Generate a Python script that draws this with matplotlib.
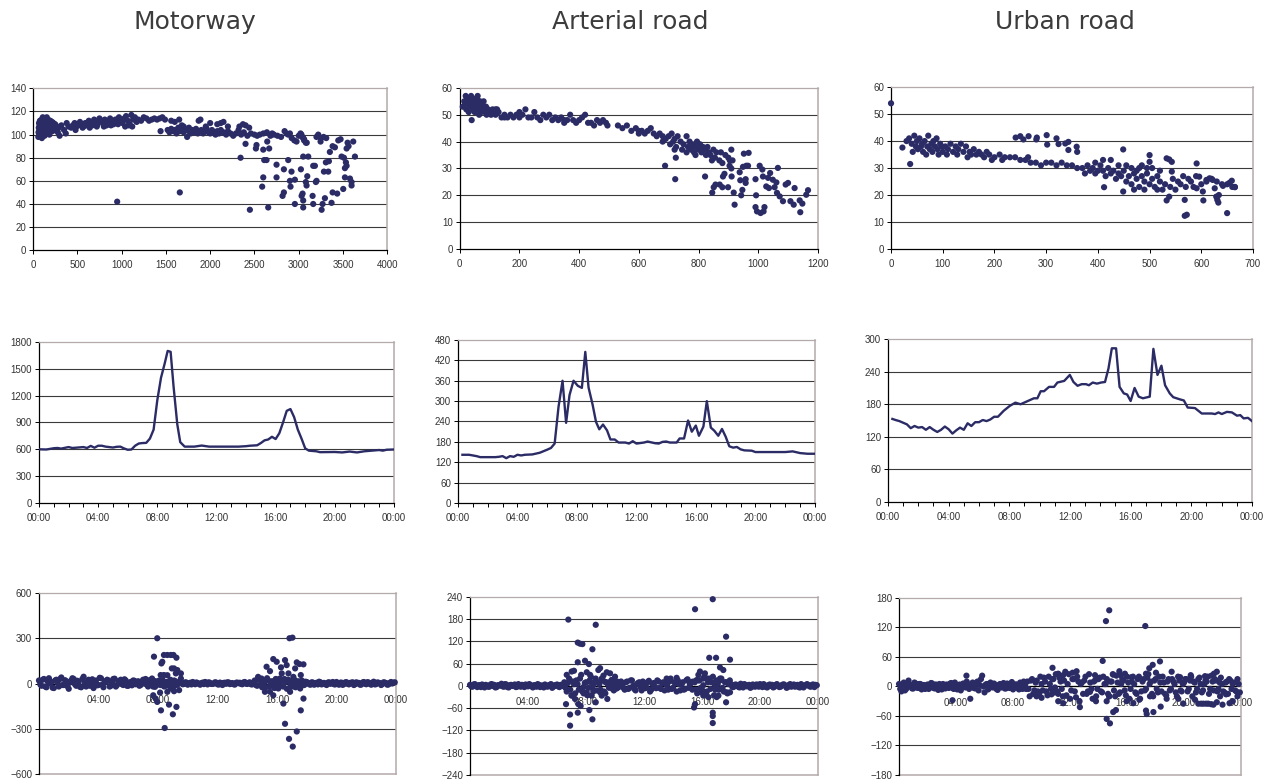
import numpy as np
import matplotlib.pyplot as plt

# --- colours / styles ---
NAVY = '#2b2b66'
GRID = '#3a3a3a'
FRAME = '#b4aaaa'
TXT = '#333333'

plt.rcParams['font.family'] = ['Liberation Sans', 'DejaVu Sans']

# ---------------- Row 1: scatter (x, y) ----------------
motorway_xy = [
    (60, 98), (62, 102), (65, 106), (68, 110), (70, 100), (72, 104), (75, 108), (78, 112),
    (80, 99), (82, 103), (85, 107), (88, 111), (90, 101), (92, 105), (95, 109), (98, 113),
    (100, 97), (105, 104), (108, 110), (110, 115), (112, 100), (115, 106), (118, 112),
    (120, 102), (125, 108), (128, 114), (130, 99), (135, 105), (140, 111), (145, 103),
    (150, 109), (155, 115), (160, 101), (165, 107), (170, 113), (175, 104), (180, 110),
    (185, 100), (190, 106), (195, 112), (200, 105), (210, 108), (215, 111), (220, 103),
    (225, 107), (230, 110), (240, 105), (250, 109), (260, 104), (270, 107), (280, 102),
    (290, 106), (300, 99), (320, 108), (350, 104), (370, 101), (380, 110), (400, 107),
    (430, 106), (450, 108), (470, 110), (490, 107), (510, 108), (530, 111), (550, 109),
    (570, 107), (590, 110), (610, 108), (630, 112), (650, 110), (670, 108), (690, 113),
    (710, 111), (730, 109), (750, 114), (770, 112), (790, 110), (810, 113), (830, 108),
    (850, 111), (870, 114), (890, 112), (910, 109), (930, 113), (950, 111), (970, 115),
    (990, 113), (1010, 110), (1030, 114), (1050, 116), (1070, 112), (1090, 109),
    (1110, 117), (1130, 113), (1150, 115), (1170, 111), (1190, 113), (1220, 112),
    (1250, 115), (1280, 114), (1310, 112), (1340, 113), (1370, 114), (1400, 113),
    (1430, 114), (1460, 115), (1490, 113),
    (480, 104), (560, 106), (640, 106), (720, 107), (800, 107), (880, 108), (960, 109),
    (1040, 107), (1080, 108), (1120, 107),
    (1440, 103), (1520, 104), (1540, 102), (1560, 105), (1580, 103), (1600, 104),
    (1620, 101), (1640, 106), (1660, 103), (1680, 105), (1700, 102), (1720, 104),
    (1740, 98), (1760, 103), (1780, 101), (1800, 104), (1820, 102), (1840, 105),
    (1860, 101), (1880, 103), (1900, 104), (1920, 101), (1940, 103), (1960, 105),
    (1980, 102), (2000, 101), (2020, 104), (2040, 102), (2060, 100), (2080, 103),
    (2100, 101), (2120, 104), (2150, 102), (2180, 100), (2200, 103), (2230, 101),
    (2260, 99), (2290, 101),
    (1560, 112), (1600, 111), (1650, 113), (1680, 108), (1870, 112), (1890, 113),
    (2000, 110), (2080, 109), (2120, 110), (2150, 111), (2200, 107), (2330, 107),
    (2370, 109), (2400, 108), (2440, 106), (1700, 107), (1760, 106), (1950, 107),
    (2320, 104), (2350, 100), (2380, 102), (2420, 99), (2460, 101), (2500, 100),
    (2530, 99), (2560, 100), (2600, 101), (2640, 102), (2680, 99), (2700, 101),
    (2720, 100), (2760, 99), (2800, 98), (2840, 103), (2860, 101), (2880, 100),
    (2920, 97), (2950, 95), (3000, 99), (3020, 101), (3040, 98), (3060, 96), (3080, 93),
    (3200, 98), (3220, 100), (3250, 97), (3280, 98), (3310, 97),
    (950, 42), (1657, 50), (2343, 80), (2399, 92), (2448, 35), (2523, 91), (2516, 88),
    (2599, 87), (2599, 63), (2587, 55), (2610, 78), (2636, 78), (2644, 94), (2666, 88),
    (2655, 37), (2749, 74), (2749, 63), (2817, 47), (2832, 50), (2832, 70), (2881, 78),
    (2900, 60), (2918, 68), (2907, 55), (2956, 40), (2956, 61), (2975, 94), (3032, 47),
    (3024, 70), (3050, 81), (3043, 49), (3050, 43), (3050, 37), (3080, 59), (3088, 56),
    (3096, 64), (3107, 81), (3156, 47), (3163, 73), (3182, 73), (3193, 59), (3201, 60),
    (3163, 40), (3220, 99), (3246, 94), (3269, 40), (3258, 35), (3295, 45), (3284, 68),
    (3306, 76), (3333, 68), (3340, 77), (3351, 85), (3370, 41), (3382, 50), (3382, 90),
    (3408, 89), (3434, 49), (3446, 95), (3472, 96), (3483, 81), (3502, 53), (3521, 63),
    (3532, 76), (3540, 73), (3551, 93), (3562, 90), (3578, 62), (3596, 59), (3596, 56),
    (3615, 94), (3634, 81), (3521, 71), (3510, 80), (3540, 88), (2900, 101),
    (3030, 100), (3050, 97), (3060, 95), (3090, 93),
]

arterial_xy = [
    (10, 53), (15, 55), (18, 54), (20, 57), (22, 52), (25, 56), (28, 54), (30, 51),
    (32, 55), (35, 53), (38, 57), (40, 48), (42, 52), (45, 56), (48, 54), (50, 51),
    (52, 55), (55, 53), (58, 56), (60, 52), (62, 54), (65, 50), (68, 55), (70, 53),
    (72, 51), (75, 54), (78, 52), (80, 55), (85, 51), (88, 53), (90, 50), (95, 52),
    (100, 51), (105, 50), (110, 52), (115, 51), (120, 50), (125, 52), (130, 51),
    (140, 49), (150, 50), (160, 49), (170, 50), (180, 49), (190, 50), (200, 49),
    (210, 50), (220, 52), (230, 49), (240, 49), (250, 51), (260, 49), (270, 48),
    (280, 50), (290, 49), (300, 50), (310, 48), (320, 49), (330, 48), (340, 49),
    (350, 47), (360, 48), (370, 50), (380, 48), (390, 47), (400, 48), (410, 49),
    (420, 50), (430, 47), (440, 47), (450, 46), (460, 48), (470, 47), (480, 48),
    (490, 47), (495, 46), (530, 46), (545, 45), (560, 46), (575, 44), (590, 45),
    (600, 44), (610, 44), (620, 43), (630, 44), (640, 45), (650, 43), (660, 42),
    (670, 43), (680, 42), (690, 41), (700, 42), (705, 39), (710, 43), (715, 40),
    (720, 41), (725, 38), (730, 42), (740, 40), (745, 37), (750, 39), (760, 42),
    (765, 38), (770, 40), (775, 37), (780, 39), (785, 36), (790, 38), (795, 40),
    (800, 37), (805, 39), (810, 36), (815, 38), (820, 37), (825, 35), (830, 38),
    (835, 36), (840, 35), (845, 33), (850, 37), (855, 34), (860, 36), (870, 33),
    (875, 36), (880, 32), (890, 35), (900, 34), (905, 33), (910, 30), (200, 51),
    (120, 52), (60, 57), (80, 53), (150, 49), (350, 48), (600, 43), (680, 40),
    (720, 37), (760, 36), (790, 35),
    (722, 26), (688, 31), (724, 34), (822, 27), (846, 21), (851, 23), (857, 24),
    (871, 24), (880, 23), (882, 27), (887, 28), (899, 23), (904, 31), (911, 27),
    (914, 33), (910, 37), (918, 21), (921, 16.5), (938, 28.6), (940, 25.6), (947, 22),
    (943, 20), (949, 30.6), (952, 35.5), (958, 26), (960, 31), (958, 24.6), (966, 31),
    (991, 26), (993, 20), (991, 15.6), (996, 14), (1005, 31), (1008, 13.4), (1014, 29.6),
    (1016, 27), (1018, 14), (1021, 15.6), (1027, 23.3), (1033, 26.5), (1036, 22.7),
    (1040, 28.3), (1049, 25.8), (1055, 23), (1061, 24.8), (1063, 20.9), (1066, 30.2),
    (1072, 19.6), (1083, 17.8), (1092, 24), (1100, 24.6), (1108, 17.8), (1119, 16.5),
    (1122, 22.7), (1139, 18.1), (1141, 13.7), (1148, 16.9), (1161, 20.2), (1167, 21.9),
    (968, 35.8),
]

urban_xy = [
    (0, 54), (22, 37.6), (37, 31.5),
    (30, 40), (35, 41), (40, 39), (42, 36), (45, 42), (48, 38), (50, 40), (52, 37),
    (55, 41), (58, 38), (60, 39), (62, 36), (65, 40), (68, 35), (70, 38), (72, 42),
    (75, 37), (78, 39), (80, 36), (82, 40), (85, 38), (88, 41), (90, 37), (92, 35),
    (95, 39), (98, 38), (100, 36), (105, 38), (108, 35), (110, 37), (115, 39),
    (120, 36), (125, 38), (128, 35), (130, 37), (135, 39), (140, 36), (145, 38),
    (148, 34), (152, 36), (155, 35), (160, 37), (165, 35), (170, 36), (175, 35),
    (180, 34), (185, 36), (190, 35), (195, 33), (200, 34), (210, 35), (215, 33),
    (220, 34), (230, 34), (240, 34), (250, 33), (260, 33), (265, 34), (270, 32),
    (280, 32), (290, 31), (300, 32), (310, 32), (320, 31), (330, 32), (340, 31),
    (350, 31), (360, 30), (370, 30), (375, 28), (380, 31), (385, 29), (390, 30),
    (395, 28), (400, 29), (405, 31), (410, 29), (415, 27), (420, 30), (425, 28),
    (430, 29), (435, 26), (440, 28), (445, 27), (450, 29), (455, 25), (460, 27),
    (465, 24), (470, 28), (475, 26), (480, 23), (485, 27), (490, 25), (495, 28),
    (500, 24), (505, 26), (510, 23), (515, 27), (520, 25), (525, 22), (530, 24),
    (540, 23), (545, 26), (550, 22), (555, 25), (560, 24), (565, 27), (570, 23),
    (575, 26), (580, 25), (585, 23), (590, 27), (600, 24), (610, 25), (620, 26),
    (630, 25), (640, 24), (650, 24), (660, 23), (665, 23), (455, 31), (465, 30),
    (475, 29), (485, 31), (495, 30), (470, 22), (490, 22), (505, 30), (515, 22),
    (440, 31), (425, 33), (410, 33), (395, 32), (480, 30), (520, 29),
    (241, 41.3), (250, 41.8), (256, 40.6), (266, 41.8), (282, 41.3), (281, 40.6),
    (301, 42.2), (302, 38.7), (320, 41), (324, 38.9), (337, 39.1), (343, 39.7),
    (343, 36.7), (359, 37.9), (360, 36),
    (412, 22.9), (449, 36.9), (449, 21.3), (500, 34.8), (500, 32.3), (533, 33.6),
    (538, 33.2), (543, 32.3), (533, 18), (538, 19.4), (543, 28.7), (568, 18.2),
    (568, 12.3), (572, 12.7), (591, 31.7), (596, 26.8), (591, 22.5), (603, 21.3),
    (604, 18), (610, 25.6), (616, 26.2), (622, 25.6), (626, 22.5), (629, 19.4),
    (631, 18.2), (633, 17.2), (634, 20), (650, 13.3), (642, 23.4), (655, 24.6),
    (659, 25.3), (665, 22.9),
]

# ---------------- Row 2: daily profiles (hour, value) ----------------
motorway_day = [
    (0.0, 600), (0.5, 598), (1.0, 612), (1.25, 615), (1.5, 608), (2.0, 625), (2.25, 615),
    (2.5, 618), (3.0, 625), (3.25, 615), (3.5, 638), (3.75, 618), (4.0, 640), (4.25, 640),
    (4.5, 630), (5.0, 620), (5.25, 628), (5.5, 630), (5.75, 610), (6.0, 595), (6.25, 598),
    (6.5, 640), (6.75, 665), (7.0, 670), (7.25, 672), (7.5, 720), (7.75, 820), (8.0, 1150),
    (8.25, 1400), (8.5, 1560), (8.7, 1700), (8.9, 1690), (9.1, 1300), (9.35, 880),
    (9.55, 680), (9.85, 630), (10.5, 630), (11.0, 642), (11.5, 630), (12.5, 630),
    (13.5, 630), (14.0, 635), (14.25, 640), (14.75, 645), (15.0, 670), (15.25, 700),
    (15.5, 710), (15.75, 740), (16.0, 715), (16.25, 780), (16.5, 900), (16.75, 1030),
    (17.0, 1050), (17.25, 960), (17.5, 820), (17.75, 720), (18.0, 610), (18.25, 585),
    (18.75, 578), (19.0, 568), (20.0, 570), (20.5, 565), (21.0, 575), (21.5, 565),
    (22.0, 578), (22.5, 585), (23.0, 592), (23.25, 585), (23.5, 595), (24.0, 598),
]

arterial_day = [
    (0.3, 142), (0.75, 142), (1.0, 140), (1.25, 138), (1.5, 135), (2.0, 135), (2.5, 135),
    (2.75, 136), (3.0, 138), (3.25, 132), (3.5, 138), (3.75, 136), (4.0, 142), (4.25, 140),
    (4.5, 142), (5.0, 143), (5.5, 148), (6.0, 157), (6.25, 162), (6.5, 175), (6.76, 283),
    (7.03, 360), (7.27, 236), (7.5, 318), (7.77, 360), (8.06, 345), (8.33, 339),
    (8.56, 445), (8.78, 340), (9.05, 290), (9.28, 239), (9.5, 217), (9.75, 231),
    (10.02, 214), (10.25, 187), (10.54, 187), (10.8, 178), (11.25, 178), (11.5, 175),
    (11.75, 182), (12.0, 175), (12.5, 178), (12.75, 181), (13.25, 176), (13.5, 175),
    (13.75, 180), (14.0, 181), (14.25, 178), (14.7, 178), (14.9, 190), (15.2, 190),
    (15.47, 243), (15.72, 210), (15.99, 228), (16.2, 198), (16.5, 225), (16.73, 300),
    (17.0, 222), (17.23, 213), (17.5, 198), (17.75, 218), (18.0, 195), (18.24, 167),
    (18.5, 163), (18.75, 165), (19.0, 158), (19.25, 155), (19.75, 154), (20.0, 150),
    (21.0, 150), (22.0, 150), (22.5, 152), (23.0, 147), (23.5, 145), (24.0, 145),
]

urban_day = [
    (0.29, 153), (0.5, 151), (0.75, 149), (1.0, 146), (1.25, 143), (1.5, 136), (1.75, 140),
    (2.0, 137), (2.25, 138), (2.5, 133), (2.75, 138), (3.0, 133), (3.25, 129), (3.5, 133),
    (3.75, 139), (4.0, 134), (4.25, 126), (4.5, 132), (4.75, 137), (5.0, 133), (5.25, 145),
    (5.5, 140), (5.75, 147), (6.0, 147), (6.25, 151), (6.5, 149), (6.75, 152), (7.0, 157),
    (7.25, 157), (7.63, 168), (8.03, 177), (8.4, 183), (8.74, 180), (9.14, 185),
    (9.62, 191), (9.85, 191), (10.07, 204), (10.29, 204), (10.62, 212), (10.95, 212),
    (11.17, 220), (11.62, 223), (11.99, 234), (12.23, 221), (12.5, 214), (12.77, 217),
    (13.05, 217), (13.25, 215), (13.5, 220), (13.78, 218), (14.05, 220), (14.31, 221),
    (14.54, 246), (14.76, 283), (15.04, 283), (15.27, 212), (15.55, 200), (15.77, 198),
    (16.0, 186), (16.26, 210), (16.53, 194), (16.81, 191), (17.26, 194), (17.5, 282),
    (17.77, 234), (18.03, 251), (18.27, 215), (18.58, 200), (18.81, 193), (19.25, 189),
    (19.51, 187), (19.76, 174), (20.24, 173), (20.69, 163), (21.35, 163), (21.57, 162),
    (21.79, 165), (22.01, 162), (22.35, 166), (22.68, 165), (23.01, 159), (23.23, 160),
    (23.45, 154), (23.74, 155), (24.0, 149),
]

# ---------------- Row 3: changes, two 10-minute base bands + outliers ----------------
motorway_band = [
    20, -15, 30, -25, 35, 10, -30, 25, -20, 40, -10, 15, -35, 20, 30, -15, 10, -25, 45, -20,
    25, 15, -30, 20, -10, 35, -25, 10, 20, -15, 30, -20, 15, 25, -10, 20,
    -15, 10, 20, -5, 15, -10, 25, 30, -20,
    10, -20, 15, 5, -10, 20, -15, 10, 25, -30, 15, -5,
    10, -5, 8, -8, 5, 10, -5, 3, -8, 6, 10, -6, 4, -3, 8, -5, 6, -10, 5, 8, -4, 3, -7, 6,
    5, -5, 10, -3, 8, -6,
    20, -15, 30, -25, 10, 35, -20, 15, -30, 25, -10, 20, 30, -35, 15, -20, 25, 10, -15, 20, -10,
    10, -5, 8, -8, 5, 12, -6, 4, -10, 8, 3, -5, 10, -8, 6, -4, 9, -6, 5, -10, 8, 4, -7, 10,
    -5, 6, -8, 12, -4, 5, -10, 8, 3, -6, 10, 5,
]
motorway_band2 = [
    -5, 25, -20, 15, 0, -28, 20, 5, 30, -10, 22, -18, 8, 35, -5, 18, -22, 30, 0, 12, -15,
    28, 5, -12, 38, -8, 15, 25, -20, 5, 32, -10, 18, -5, 28, -15,
    5, -12, 18, 8, -15, 12, 0, -8, 20,
    -5, 15, -10, 20, 0, -20, 10, -15, 5, 20, -10, 10,
    3, -3, 6, 0, -6, 4, 7, -2, 2, -4, 5, 8, -3, 0, 6, -7, 3, 4, -2, 7, 0, -5, 5, 2, -3, 7,
    -1, 4, -5, 6,
    -10, 25, -5, 15, -25, 20, 5, -15, 30, -5, 15, -20, 10, 25, -10, 5, -25, 15, 5, -10, 12,
    4, -8, 6, 2, -6, 8, 0, -4, 6, -2, 10, -6, 3, 5, -9, 7, -2, 4, 8, -5, 2, -8, 6, 0, 9, -3,
    5, -6, 7, 2, -4, 6, -8, 4, 0, 8,
]
motorway_out = [
    (7.73, 178), (7.95, 300), (7.68, -78), (7.84, -100), (7.95, -122), (8.23, 133),
    (8.29, 144), (8.4, 189), (8.63, 189), (8.86, 189), (9.04, 189), (9.24, 171),
    (8.18, 56), (8.4, 56), (8.63, 55), (8.45, -295), (8.2, -178), (8.74, -140),
    (9.0, -204), (9.24, -155), (8.93, 100), (9.2, 67), (9.54, 67), (9.54, 33),
    (8.63, -55), (8.86, -33), (9.08, -51), (9.42, -44), (8.14, -60), (7.8, -22),
    (7.6, 33), (7.46, 22), (9.08, 100), (9.3, 89),
    (14.73, 44), (14.96, 33), (15.3, 111), (15.53, 82), (15.75, 162), (15.98, 144),
    (16.27, 107), (16.32, 67), (16.43, -133), (16.54, 155), (16.54, -267), (16.65, 122),
    (16.77, 67), (16.84, 300), (17.04, 304), (16.81, -367), (17.06, -418), (17.22, 100),
    (17.33, 140), (17.33, -318), (17.51, 129), (17.6, -178), (17.78, 127), (17.78, -100),
    (17.6, 56), (15.19, -55), (15.53, -55), (15.75, -78), (16.09, -33), (16.88, -55),
    (17.22, -22), (17.56, -33), (15.86, 11), (16.2, 33), (17.1, 44), (17.45, -11),
]

arterial_band = [
    3, -2, 5, -3, 2, 4, -4, 1, -2, 5, 3, -3, 2, 6, -2, 4, -4, 3, 1, -3, 5, -2, 2, 4, -1, 3,
    -4, 2, 5, -3, 1, 4, -2, 3, -5, 2, 4, -3, 1,
    10, -15, 20, -25, 5, 15, -10, 30, -20, 10, -5, 25, -15, 20, 10, -10, 15, -20, 5, 10, -8,
    15, -5, 10,
    8, -10, 12, -5, 15, -8, 5, 10, -12, 6, -4, 14, -10, 8, -6, 12, -8, 10, 5, -10, 20, -5,
    8, 15, -12, 10, -8, 18, 5, -10,
    10, -20, 15, -10, 25, -15, 20, 10, -25, 15, -10, 20, -15, 10, 5,
    5, -3, 4, -2, 6, -4, 3, 2, -5, 4, -2, 3, 5, -3, 2, -4, 4, 3, -2, 5, -3, 2, 4, -5, 3,
    -2, 4, 2, -3, 5, -4, 3, 2, -2, 4, 3,
]
arterial_band2 = [
    -1, 4, 0, 2, -3, 1, 3, -2, 4, 0, -4, 2, 1, -1, 5, -3, 2, 0, 4, -2, 1, 3, -3, 0, 5, -1,
    2, -2, 3, 1, -4, 2, 0, 5, -2, 1, -1, 3, 0,
    -5, 8, -10, 12, -20, 5, 20, -15, 8, -25, 15, -5, 10, -12, 5, 20, -15, 10, -5, 15, -12,
    8, -3, 12,
    -5, 10, -8, 15, 0, -12, 8, -3, 12, -6, 10, -15, 5, -2, 15, -5, 8, -12, 2, 12, -8, 10,
    -15, 5, 3, -10, 15, -5, 8, 12,
    -10, 15, -5, 20, -20, 10, -8, 25, -10, 5, 15, -5, 10, -20, 15,
    -2, 3, 1, -4, 2, 5, -1, 3, -3, 0, 4, -2, 1, 5, -3, 2, 0, -4, 3, 1, -2, 4, 0, -3, 5, 1,
    -2, 3, -4, 2, 0, 5, -1, 3, -3, 2,
]
arterial_out = [
    (6.67, 30), (6.62, -49), (6.78, 179), (6.9, -77), (6.9, -107), (7.01, 39), (7.17, 41),
    (7.43, 64), (7.43, 117), (7.59, 114), (7.75, 113), (7.43, -72), (7.47, -49),
    (7.63, -54), (7.82, -3), (7.93, 68), (8.05, -17), (8.2, 59), (8.23, -65), (8.28, 30),
    (8.44, 99), (8.44, -90), (8.5, 2), (8.67, 165), (8.67, -44), (8.85, 43), (8.97, 48),
    (8.97, -17), (9.08, -26), (9.2, 28), (9.31, 11), (9.43, 37), (9.47, -35), (9.66, 34),
    (9.77, 16), (9.84, 2), (10.0, 25), (10.1, -7), (10.23, 11), (8.28, 11), (8.05, 37),
    (8.39, -26), (7.01, -26), (7.24, -35),
    (15.52, 207), (15.45, -58), (15.52, -49), (15.63, 16), (15.75, 30), (15.86, 39),
    (15.98, -17), (16.09, 2), (16.09, -26), (16.5, 76), (16.44, -30), (16.74, 234),
    (16.74, -72), (16.74, -81), (16.74, -100), (16.97, 76), (16.9, 2), (17.01, -30),
    (17.13, -26), (17.24, 50), (17.24, 20), (17.36, -7), (17.47, 43), (17.66, 133),
    (17.66, -44), (17.7, -17), (17.93, 71), (17.93, -17), (16.32, 20), (16.2, 34),
    (15.29, 11), (13.56, 20), (14.25, 22),
]

urban_band = [
    5, -10, 8, -5, 12, 3, -4, 6, -3, 5, 2, -5, 4, -2, 6, -4, 3, 5, -6, 2, 4, -3, 7, -5, 3,
    1, -8, 6, -2, 4, -25, 8, -4, 10, 3, 22, -12, 5, -3, 4, 6, -5, 3, -2, 7, -4, 5, 2, -6, 4,
    -3, 8, -5, 3,
    10, -20, 15, -8, 12, -15, 5, 18, -10, 20, -5, 15,
    25, -15, 10, -20, 30, 5, -25, 15, -10, 20, -30, 8, 12, -15, 25, -5, 10, -20, 15, -10,
    20, 5, -15, 10, 25, -20, 8, -12, 15, -8, 20, -25, 10, 5, -15, 20, -10, 15, -5, 25, 10,
    -20, 15, -12, 8, 20, -15, 10, -8, 15, 5, -20, 12, -10, 8, 15, -5, 20, 10, -12, 15, 5,
    -8, 12, 20, -5, 10, 15, -10, 8, 5, -12, 10, 15, -5, 8, -10, 5,
]
urban_band2 = [
    -5, 3, -8, 6, 0, -4, 8, -2, 5, -6, 3, 0, -5, 7, -3, 4, -7, 2, 5, -4, 0, 6, -3, 8, -6, 4,
    -2, 3, 10, -5, 5, -3, 7, -8, 15, 0, 4, -6, 8, -2, 3, -7, 5, 0, -4, 6, -3, 9, -2, 4, -6,
    5, 10, -5,
    -5, 12, -15, 8, -10, 20, -8, 10, -18, 5, 15, -12,
    -10, 18, -5, 12, -18, 25, -8, 15, -22, 10, 5, -15, 20, -10, 8, -25, 12, -5, 18, -12, 5,
    15, -20, 10, -8, 22, -15, 5, 12, -18, 8, -5, 20, -12, 15, -25, 10, -8, 18, 5, -15, 12,
    -5, 20, -10, 8, -18, 15, -5, 10, -12, 20, -8, 5, 15, -10, 12, -20, 8, -5, 18, -12, 5,
    10, -15, 22, -8, 12, -5, 18, -10, 8, -15, 12, 5, -8, 15, -12,
]
urban_out = [
    (10.77, 38), (11.17, 26), (11.52, 23), (11.17, -30), (11.52, -34), (12.18, 28),
    (12.46, 31), (12.69, -42), (13.4, -11), (13.75, 23), (13.82, -30), (14.29, 52),
    (14.52, 133), (14.75, 155), (14.57, -30), (14.57, -66), (14.8, -75), (14.75, -20),
    (15.03, 24), (15.03, -52), (15.22, -48), (15.46, 31), (15.55, 23), (15.85, 26),
    (15.97, -30), (16.32, 19), (16.44, -34), (16.86, -27), (17.28, 123), (17.33, 26),
    (17.33, -49), (17.38, -56), (17.56, 37), (17.61, -20), (17.8, 44), (17.85, -52),
    (18.03, 28), (18.31, 51), (18.36, -41), (18.78, -25), (19.13, 30), (19.6, -25),
    (19.72, 19), (19.95, -35), (20.47, 23), (20.77, -27), (21.0, -35), (21.2, -35),
    (21.36, -35), (21.55, -35), (21.7, -35), (21.9, -36), (22.06, -37), (22.3, -32),
    (22.53, -20), (22.7, -37), (22.1, 26), (22.3, 30), (21.47, 21), (22.95, -16),
    (23.19, -34), (23.42, -30), (23.75, -20), (9.65, -20), (10.0, -23), (10.7, -16),
    (10.94, -2), (3.75, -28), (4.73, 22),
]

TITLES = ['Motorway', 'Arterial road', 'Urban road']
TITLE_X = [0.1535, 0.496, 0.8386]

ROW1_POS = [[0.026, 0.680, 0.279, 0.207], [0.362, 0.6816, 0.282, 0.206],
            [0.7016, 0.6816, 0.285, 0.207]]
ROW2_POS = [[0.0307, 0.3568, 0.2795, 0.2059], [0.3606, 0.3568, 0.2811, 0.2084],
            [0.6992, 0.358, 0.2866, 0.2084]]
ROW3_POS = [[0.0307, 0.0102, 0.2811, 0.2315], [0.3701, 0.009, 0.274, 0.2276],
            [0.7079, 0.009, 0.2693, 0.2263]]

HOUR_LABELS = ['00:00', '04:00', '08:00', '12:00', '16:00', '20:00', '00:00']
DOT = 20


def base_style(ax, yticks):
    ax.set_ylim(yticks[0], yticks[-1])
    ax.set_yticks(yticks)
    for v in yticks[1:-1]:
        ax.axhline(v, color=GRID, lw=0.8, zorder=0.5)
    ax.spines['left'].set_color('black')
    ax.spines['left'].set_linewidth(0.9)
    ax.spines['bottom'].set_color('black')
    ax.spines['bottom'].set_linewidth(0.9)
    ax.spines['top'].set_color(FRAME)
    ax.spines['right'].set_color(FRAME)
    ax.spines['top'].set_linewidth(0.9)
    ax.spines['right'].set_linewidth(1.1)
    ax.tick_params(axis='both', direction='out', length=3, width=0.7,
                   labelsize=7, labelcolor=TXT, pad=2)


fig = plt.figure(figsize=(12.7, 7.82), dpi=100)

for tx, name in zip(TITLE_X, TITLES):
    fig.text(tx, 0.972, name, ha='center', va='center', fontsize=18,
             color='#3c3c3c', family='DejaVu Sans')

# --- Row 1 ---
row1 = [(motorway_xy, np.arange(0, 4001, 500), np.arange(0, 141, 20)),
        (arterial_xy, np.arange(0, 1201, 200), np.arange(0, 61, 10)),
        (urban_xy, np.arange(0, 701, 100), np.arange(0, 61, 10))]
for pos, (pts, xt, yt) in zip(ROW1_POS, row1):
    ax = fig.add_axes(pos)
    p = np.array(pts, dtype=float)
    ax.scatter(p[:, 0], p[:, 1], s=DOT, color=NAVY, edgecolors='none', zorder=3, clip_on=False)
    base_style(ax, yt)
    ax.set_xlim(xt[0], xt[-1])
    ax.set_xticks(xt)
    ax.tick_params(axis='x', pad=4)

# --- Row 2 ---
row2 = [(motorway_day, np.arange(0, 1801, 300)),
        (arterial_day, np.arange(0, 481, 60)),
        (urban_day, np.arange(0, 301, 60))]
for pos, (pts, yt) in zip(ROW2_POS, row2):
    ax = fig.add_axes(pos)
    p = np.array(pts, dtype=float)
    ax.plot(p[:, 0], p[:, 1], color=NAVY, lw=1.7, zorder=3, solid_joinstyle='round')
    base_style(ax, yt)
    ax.set_xlim(0, 24)
    ax.set_xticks(range(0, 25, 4))
    ax.set_xticklabels(HOUR_LABELS)
    ax.set_xticks(range(0, 25), minor=True)
    ax.tick_params(axis='x', which='minor', direction='out', length=3, width=0.7)
    ax.tick_params(axis='x', which='major', pad=4)

# --- Row 3 ---
row3 = [(motorway_band, motorway_band2, motorway_out, np.arange(-600, 601, 300)),
        (arterial_band, arterial_band2, arterial_out, np.arange(-240, 241, 60)),
        (urban_band, urban_band2, urban_out, np.arange(-180, 181, 60))]
for pos, (band, band2, out, yt) in zip(ROW3_POS, row3):
    ax = fig.add_axes(pos)
    band = np.array(band, dtype=float)
    band2 = np.array(band2, dtype=float)
    t_band = np.arange(len(band)) * 24.0 / len(band)
    t_band2 = (np.arange(len(band2)) + 0.5) * 24.0 / len(band2)
    o = np.array(out, dtype=float)
    for tx_, vy_ in ((t_band, band), (t_band2, band2), (o[:, 0], o[:, 1])):
        ax.scatter(tx_, vy_, s=DOT, color=NAVY, edgecolors='none', zorder=3, clip_on=False)
    base_style(ax, yt)
    ax.set_xlim(0, 24)
    ax.spines['bottom'].set_position(('data', 0))
    ax.spines['bottom'].set_zorder(1)
    ax.axhline(yt[0], color=FRAME, lw=1.1, clip_on=False, zorder=1)
    ax.set_xticks(range(4, 25, 4))
    ax.set_xticklabels(HOUR_LABELS[1:])
    ax.tick_params(axis='x', length=0, pad=8)

plt.savefig('out.png', dpi=100)
